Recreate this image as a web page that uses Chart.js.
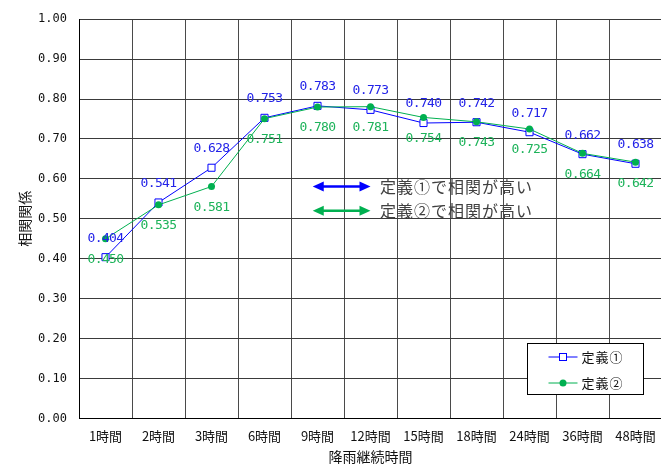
<!DOCTYPE html>
<html lang="ja">
<head>
<meta charset="utf-8">
<title>降雨継続時間と相関関係</title>
<script src="https://cdn.jsdelivr.net/npm/chart.js@4.4.1/dist/chart.umd.min.js"></script>
<style>
  html, body { margin: 0; padding: 0; background: #fff; overflow: hidden; }
  #wrap { width: 668px; height: 466px; }
</style>
</head>
<body>
<div id="wrap"><canvas id="c" width="668" height="466"></canvas></div>
<script>
// 降雨継続時間ごとの相関係数（定義①・定義②）
const categories = ['1時間', '2時間', '3時間', '6時間', '9時間', '12時間', '15時間', '18時間', '24時間', '36時間', '48時間'];
const def1 = [0.404, 0.541, 0.628, 0.753, 0.783, 0.773, 0.740, 0.742, 0.717, 0.662, 0.638];
const def2 = [0.450, 0.535, 0.581, 0.751, 0.780, 0.781, 0.754, 0.743, 0.725, 0.664, 0.642];
const seriesNames = ['定義①', '定義②'];
const noteTexts = ['定義①で相関が高い', '定義②で相関が高い'];
const yTitle = '相関関係';
const xTitle = '降雨継続時間';

const BLUE = '#0000ff';
const GREEN = '#00b050';
const BLUE_TEXT = '#2323e8';
const GREEN_TEXT = '#1db35a';
const JP = '"Noto Sans CJK JP", "Noto Sans", sans-serif';
const MONO = '"DejaVu Sans Mono", "Liberation Mono", monospace';

// arrow notes placed in axis units (category index, correlation value)
const notes = [
  { from: 3.91, to: 5.0, value: 0.581, textAt: 5.18, color: BLUE },
  { from: 3.91, to: 5.0, value: 0.520, textAt: 5.18, color: GREEN }
];

function drawArrow(ctx, x1, x2, yy, color) {
  const head = 11, half = 5;
  ctx.strokeStyle = color;
  ctx.fillStyle = color;
  ctx.lineWidth = 2.5;
  ctx.beginPath();
  ctx.moveTo(x1 + head - 1, yy);
  ctx.lineTo(x2 - head + 1, yy);
  ctx.stroke();
  ctx.beginPath();
  ctx.moveTo(x1, yy); ctx.lineTo(x1 + head, yy - half); ctx.lineTo(x1 + head, yy + half); ctx.closePath();
  ctx.fill();
  ctx.beginPath();
  ctx.moveTo(x2, yy); ctx.lineTo(x2 - head, yy - half); ctx.lineTo(x2 - head, yy + half); ctx.closePath();
  ctx.fill();
}

const overlay = {
  id: 'overlay',
  afterDatasetsDraw(chart) {
    const { ctx, chartArea: a } = chart;
    const x = chart.scales.x, y = chart.scales.y;
    ctx.save();

    // value labels: 定義① above, 定義② below
    ctx.font = '13px ' + MONO;
    ctx.letterSpacing = '-0.6px';
    ctx.textAlign = 'center';
    ctx.textBaseline = 'middle';
    ctx.fillStyle = BLUE_TEXT;
    def1.forEach((v, i) => ctx.fillText(v.toFixed(3), x.getPixelForValue(i), y.getPixelForValue(v) - 19));
    ctx.fillStyle = GREEN_TEXT;
    def2.forEach((v, i) => ctx.fillText(v.toFixed(3), x.getPixelForValue(i), y.getPixelForValue(v) + 21));
    ctx.letterSpacing = '0px';

    // arrow notes
    notes.forEach((n, k) => {
      const yy = y.getPixelForValue(n.value);
      drawArrow(ctx, x.getPixelForValue(n.from), x.getPixelForValue(n.to), yy, n.color);
      ctx.font = '16px ' + JP;
      ctx.letterSpacing = '1px';
      ctx.textAlign = 'left';
      ctx.textBaseline = 'middle';
      ctx.fillStyle = '#404040';
      ctx.fillText(noteTexts[k], x.getPixelForValue(n.textAt), yy);
      ctx.letterSpacing = '0px';
    });

    // legend box (bottom-right inside the plot)
    const bw = 116, bh = 51;
    const bx = Math.round(a.right - 19.5 - bw) + 0.5;
    const by = Math.round(a.bottom - 24.5 - bh) + 0.5;
    ctx.fillStyle = '#fff';
    ctx.fillRect(bx, by, bw, bh);
    ctx.strokeStyle = '#000';
    ctx.lineWidth = 1;
    ctx.strokeRect(bx, by, bw, bh);
    const rows = [by + 13.5, by + 39.5];
    [BLUE, GREEN].forEach((col, k) => {
      const ly = rows[k];
      ctx.strokeStyle = col;
      ctx.lineWidth = 1;
      ctx.beginPath();
      ctx.moveTo(bx + 21, ly); ctx.lineTo(bx + 50, ly);
      ctx.stroke();
      const cx = bx + 35.5;
      if (k === 0) {
        ctx.fillStyle = '#fff';
        ctx.fillRect(cx - 3.5, ly - 3.5, 7, 7);
        ctx.strokeRect(cx - 3.5, ly - 3.5, 7, 7);
      } else {
        ctx.fillStyle = col;
        ctx.beginPath(); ctx.arc(cx, ly, 3.5, 0, Math.PI * 2); ctx.fill();
      }
      ctx.fillStyle = '#111';
      ctx.font = '13px ' + JP;
      ctx.letterSpacing = '1px';
      ctx.textAlign = 'left';
      ctx.textBaseline = 'middle';
      ctx.fillText(seriesNames[k], bx + 54, ly);
      ctx.letterSpacing = '0px';
    });

    // axis titles
    ctx.fillStyle = '#111';
    ctx.font = '14px ' + JP;
    ctx.textAlign = 'center';
    ctx.textBaseline = 'middle';
    ctx.fillText(xTitle, (a.left + a.right) / 2, 457);
    ctx.save();
    ctx.translate(25, (a.top + a.bottom) / 2);
    ctx.rotate(-Math.PI / 2);
    ctx.fillText(yTitle, 0, 0);
    ctx.restore();

    ctx.restore();
  }
};

new Chart(document.getElementById('c'), {
  type: 'line',
  data: {
    labels: categories,
    datasets: [
      {
        label: seriesNames[0], data: def1, order: 1,
        borderColor: BLUE, borderWidth: 1, backgroundColor: '#fff',
        pointStyle: 'rect', pointRadius: 5, pointBorderWidth: 1,
        pointBorderColor: BLUE, pointBackgroundColor: '#fff',
        tension: 0, fill: false
      },
      {
        label: seriesNames[1], data: def2, order: 0,
        borderColor: GREEN, borderWidth: 1, backgroundColor: GREEN,
        pointStyle: 'circle', pointRadius: 3.5, pointBorderWidth: 0,
        pointBackgroundColor: GREEN,
        tension: 0, fill: false
      }
    ]
  },
  options: {
    responsive: false,
    animation: false,
    devicePixelRatio: 1,
    layout: { padding: { top: 13.5, right: 0.5, left: 0, bottom: 0 } },
    plugins: { legend: { display: false }, tooltip: { enabled: false } },
    scales: {
      x: {
        type: 'category',
        offset: true,
        grid: { offset: true, color: '#4a4a4a', lineWidth: 1, drawTicks: false },
        border: { color: '#000', width: 1 },
        ticks: { font: { family: JP, size: 13 }, color: '#111', padding: 10, maxRotation: 0, autoSkip: false },
        afterFit(s) { s.height = 47.5; }
      },
      y: {
        min: 0, max: 1,
        grid: { color: '#3a3a3a', lineWidth: 1, drawTicks: false },
        border: { color: '#000', width: 1 },
        ticks: {
          stepSize: 0.1, padding: 12, color: '#111',
          font: { family: MONO, size: 12 },
          callback: v => Number(v).toFixed(2)
        },
        afterFit(s) { s.width = 79; }
      }
    }
  },
  plugins: [overlay]
});
</script>
</body>
</html>
